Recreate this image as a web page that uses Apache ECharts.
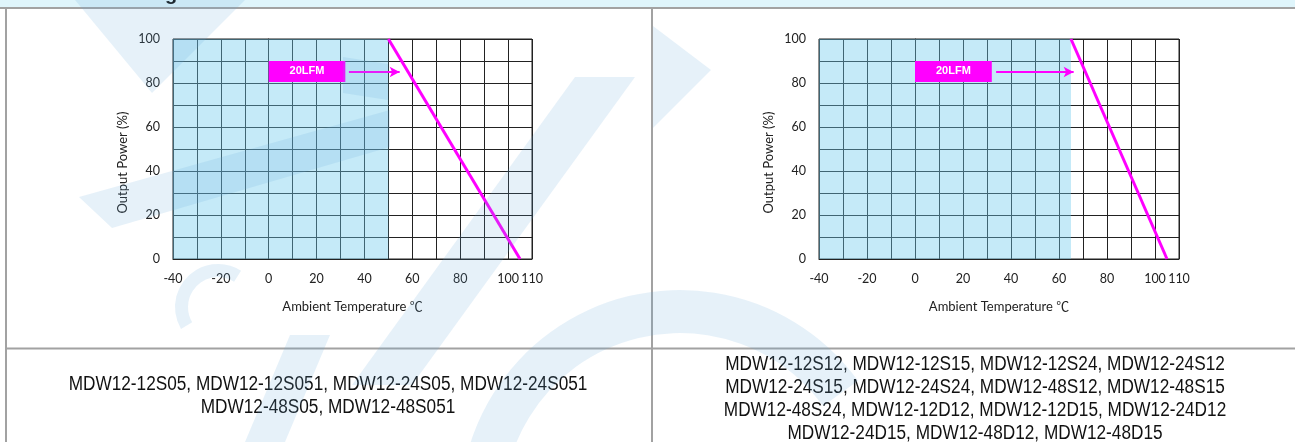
<!DOCTYPE html>
<html><head><meta charset="utf-8">
<script src="https://cdn.jsdelivr.net/npm/echarts@6/dist/echarts.min.js"></script>
<style>html,body{margin:0;padding:0;background:#fff;overflow:hidden}#c{width:1295px;height:442px}</style>
</head><body><div id="c"></div>
<script>
// ---- data ----
const xMin = -40, xMax = 110, xStep = 10;
const yMin = 0, yMax = 100, yStep = 10;
const xTickLabels = [-40, -20, 0, 20, 40, 60, 80, 100, 110];
const yTickLabels = [0, 20, 40, 60, 80, 100];
const leftCurve = [[50, 100], [105, 0]];
const rightCurve = [[65, 100], [105, 0]];
const leftSafeMax = 50;
const rightSafeMax = 65;
const airflowLabel = '20LFM';
const boxX = [0, 32];
const boxY = [80.5, 90];
const arrowY = 85;
const leftArrowX = [33.5, 54.7];
const rightArrowX = [33.8, 66.1];
const xName = 'Ambient Temperature ℃';
const yName = 'Output Power (%)';
const headerText = 'Derating Curve';
const leftModels = [
  'MDW12-12S05, MDW12-12S051, MDW12-24S05, MDW12-24S051',
  'MDW12-48S05, MDW12-48S051'
];
const rightModels = [
  'MDW12-12S12, MDW12-12S15, MDW12-12S24, MDW12-24S12',
  'MDW12-24S15, MDW12-24S24, MDW12-48S12, MDW12-48S15',
  'MDW12-48S24, MDW12-12D12, MDW12-12D15, MDW12-24D12',
  'MDW12-24D15, MDW12-48D12, MDW12-48D15'
];

// ---- build ----
const chart = echarts.init(document.getElementById('c'), null, {renderer: 'canvas'});
const ink = '#222';
const tickFont = {fontFamily: 'Lato', fontSize: 12.5, color: ink};

function xAxis(gi) {
  return {
    type: 'value', gridIndex: gi, min: xMin, max: xMax, interval: xStep,
    axisLine: {show: true, lineStyle: {color: ink, width: 1}},
    axisTick: {show: false},
    splitLine: {show: true, lineStyle: {color: ink, width: 1}},
    axisLabel: Object.assign({margin: 13, showMinLabel: true, showMaxLabel: true,
      formatter: v => xTickLabels.includes(v) ? String(v) : ''}, tickFont),
    name: xName, nameLocation: 'middle', nameGap: 41,
    nameTextStyle: {fontFamily: "Lato, 'Noto Sans CJK SC'", fontSize: 13, color: ink}
  };
}
function yAxis(gi) {
  return {
    type: 'value', gridIndex: gi, min: yMin, max: yMax, interval: yStep,
    axisLine: {show: true, lineStyle: {color: ink, width: 1}},
    axisTick: {show: false},
    splitLine: {show: true, lineStyle: {color: ink, width: 1}},
    axisLabel: Object.assign({margin: 13, formatter: v => yTickLabels.includes(v) ? String(v) : ''}, tickFont),
    name: yName, nameLocation: 'middle', nameGap: 44, nameRotate: 90,
    nameTextStyle: {fontFamily: 'Lato', fontSize: 13, color: ink, padding: [0, 27, 0, 0]}
  };
}
function curveSeries(gi, data, safeMax, arrowX) {
  return {
    type: 'line', xAxisIndex: gi, yAxisIndex: gi, data: data,
    symbol: 'none', silent: true, z: 3,
    lineStyle: {color: '#FF00FF', width: 3},
    markArea: {
      silent: true,
      data: [
        [{coord: [xMin, yMin], itemStyle: {color: 'rgba(110,202,237,0.4)'}}, {coord: [safeMax, yMax]}],
        [{coord: [boxX[0], boxY[1]], itemStyle: {color: '#FF00FF', opacity: 1},
          label: {show: true, position: 'inside', formatter: airflowLabel, color: '#fff',
                  fontFamily: 'Liberation Sans', fontWeight: 'bold', fontSize: 11}},
         {coord: [boxX[1], boxY[0]]}]
      ]
    },
    markLine: {
      silent: true, symbol: ['none', 'arrow'], symbolSize: [8, 10],
      lineStyle: {color: '#FF00FF', width: 2, type: 'solid'},
      label: {show: false},
      data: [[{coord: [arrowX[0], arrowY]}, {coord: [arrowX[1], arrowY]}]]
    }
  };
}

const textGraphics = [];
function addLines(lines, cx, firstY, step) {
  lines.forEach((t, i) => {
    textGraphics.push({
      type: 'text', x: cx, y: firstY + i * step, scaleX: 0.84, z: 10,
      style: {text: t, fontFamily: 'Liberation Sans', fontSize: 20.5, fill: '#111',
              textAlign: 'center', textVerticalAlign: 'middle'}
    });
  });
}
addLines(leftModels, 328, 384, 23);
addLines(rightModels, 975, 364, 23);

// faint background logo watermark
const wm = 'rgba(100,170,215,0.16)';
const wmShapes = [
  {type: 'polygon', shape: {points: [[75, 0], [245, 0], [152, 93]]}},
  {type: 'polygon', shape: {points: [[79, 197], [390, 110], [390, 147], [112, 228]]}},
  {type: 'polygon', shape: {points: [[343, 57], [388, 64], [388, 100], [343, 93]]}},
  {type: 'sector', shape: {cx: 218, cy: 307, r: 43, r0: 30, startAngle: Math.PI * 0.83, endAngle: Math.PI * 1.68, clockwise: true}},
  {type: 'polygon', shape: {points: [[290, 335], [330, 335], [285, 442], [245, 442]]}},
  {type: 'polygon', shape: {points: [[352, 385], [575, 77], [635, 77], [412, 385]]}},
  {type: 'polygon', shape: {points: [[653, 26], [711, 70], [653, 128]]}},
  {type: 'sector', shape: {cx: 680, cy: 510, r: 220, r0: 177, startAngle: Math.PI * 1.05, endAngle: Math.PI * 1.8, clockwise: true}}
].map(s => Object.assign(s, {style: {fill: wm}, z: 100, silent: true}));

const graphics = [
  {type: 'rect', shape: {x: 0, y: 0, width: 1295, height: 7}, style: {fill: '#DFF5FB'}, z: 1},
  {type: 'text', x: 96, y: 4.5, z: 2, style: {text: headerText, fontFamily: 'Liberation Sans', fontWeight: 'bold',
     fontSize: 20, fill: '#111', textVerticalAlign: 'bottom'}},
  {type: 'rect', shape: {x: 0, y: 7, width: 1295, height: 2}, style: {fill: '#A2A2A2'}, z: 5},
  {type: 'rect', shape: {x: 5, y: 7, width: 2, height: 435}, style: {fill: '#A2A2A2'}, z: 5},
  {type: 'rect', shape: {x: 651, y: 7, width: 2, height: 435}, style: {fill: '#A2A2A2'}, z: 5},
  {type: 'rect', shape: {x: 5, y: 347.5, width: 1290, height: 2}, style: {fill: '#A2A2A2'}, z: 5}
].concat(textGraphics, wmShapes);

chart.setOption({
  animation: false,
  backgroundColor: '#fff',
  grid: [
    {left: 173, top: 39, width: 359, height: 220, show: true, borderColor: ink, borderWidth: 1, backgroundColor: 'transparent'},
    {left: 819, top: 39, width: 360, height: 220, show: true, borderColor: ink, borderWidth: 1, backgroundColor: 'transparent'}
  ],
  xAxis: [xAxis(0), xAxis(1)],
  yAxis: [yAxis(0), yAxis(1)],
  series: [
    curveSeries(0, leftCurve, leftSafeMax, leftArrowX),
    curveSeries(1, rightCurve, rightSafeMax, rightArrowX)
  ],
  graphic: graphics
});
</script></body></html>
